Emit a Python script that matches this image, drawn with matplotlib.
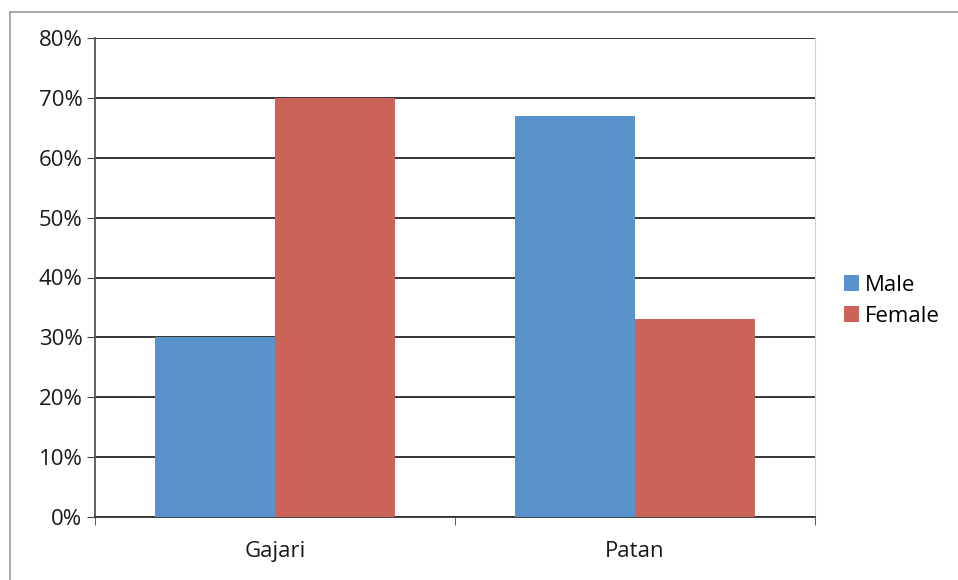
import matplotlib.pyplot as plt
import numpy as np
from matplotlib.lines import Line2D

categories = ['Gajari', 'Patan']
male = [30, 67]
female = [70, 33]
series_names = ['Male', 'Female']
colors = ['#5A93CC', '#CB6359']

plt.rcParams['font.family'] = ['Open Sans', 'DejaVu Sans']
fs = 16

fig = plt.figure(figsize=(9.58, 5.8), dpi=100)
ax = fig.add_axes([95 / 958, 1 - 517 / 580, 720 / 958, 479 / 580])

x = np.arange(len(categories))
w = 1 / 3
ax.bar(x - w / 2, male, w, color=colors[0], label=series_names[0], zorder=3)
ax.bar(x + w / 2, female, w, color=colors[1], label=series_names[1], zorder=3)

ax.set_xlim(-0.5, len(categories) - 0.5)
ax.set_ylim(0, 80)
ax.set_yticks(range(0, 81, 10))
ax.set_yticklabels([f'{v}%' for v in range(0, 81, 10)], fontsize=fs, color='#1a1a1a')
ax.set_xticks(x)
ax.set_xticklabels(categories, fontsize=fs, color='#1a1a1a')
ax.tick_params(axis='x', length=0, pad=17)
ax.set_xticks(np.arange(-0.5, len(categories), 1), minor=True)
ax.tick_params(axis='x', which='minor', length=6, direction='out', color='#444444')
ax.tick_params(axis='y', length=6, direction='out', color='#444444', pad=3)

ax.grid(axis='y', color='black', linewidth=1.1, zorder=1)
ax.set_axisbelow(True)
ax.spines['top'].set_visible(False)
ax.spines['right'].set_color('#d0d0d0')
ax.spines['left'].set_color('#555555')
ax.spines['bottom'].set_color('#333333')
ax.spines['left'].set_linewidth(1.3)
ax.spines['bottom'].set_linewidth(1.3)

ax.legend(loc='center left', bbox_to_anchor=(835 / 958, 1 - 301 / 580),
          bbox_transform=fig.transFigure, frameon=False, fontsize=fs,
          handlelength=0.7, handleheight=0.7, handletextpad=0.25, labelspacing=0.45,
          borderaxespad=0)

fig.add_artist(Line2D([10 / 958, 10 / 958], [0, 1 - 12 / 580], color='#999999', linewidth=1.2))
fig.add_artist(Line2D([10 / 958, 1], [1 - 12 / 580, 1 - 12 / 580], color='#999999', linewidth=1.2))

fig.savefig('out.png', dpi=100)
